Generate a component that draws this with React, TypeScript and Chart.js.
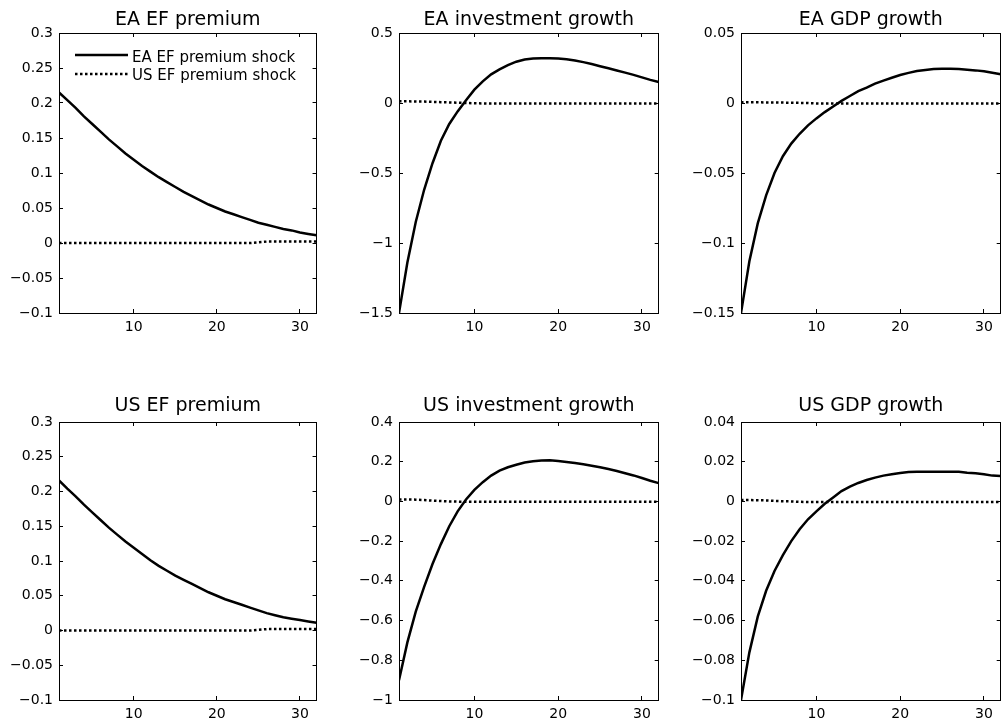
import React, { useEffect, useRef } from "react";
import { Chart, registerables } from "chart.js";

Chart.register(...registerables);
Chart.defaults.font.family = "'DejaVu Sans', sans-serif";
Chart.defaults.color = "#000";

// ---------------- data ----------------
const periods = [1, 2, 3, 4, 5, 6, 7, 8, 9, 10, 11, 12, 13, 14, 15, 16, 17, 18, 19, 20, 21, 22, 23, 24, 25, 26, 27, 28, 29, 30, 31, 32];

const seriesLabels = ["EA EF premium shock", "US EF premium shock"];

const titles = [
  "EA EF premium",
  "EA investment growth",
  "EA GDP growth",
  "US EF premium",
  "US investment growth",
  "US GDP growth",
];

// EA EF premium
const eaPremium_EAshock = [0.215, 0.204, 0.193, 0.181, 0.170, 0.159, 0.148, 0.138, 0.128, 0.119, 0.110, 0.102, 0.094, 0.087, 0.080, 0.073, 0.067, 0.061, 0.055, 0.050, 0.045, 0.041, 0.037, 0.033, 0.029, 0.026, 0.023, 0.020, 0.018, 0.015, 0.013, 0.011];
const eaPremium_USshock = [0, 0, 0, 0, 0, 0, 0, 0, 0, 0, 0, 0, 0, 0, 0, 0, 0, 0, 0, 0, 0, 0, 0, 0, 0.001, 0.002, 0.002, 0.002, 0.002, 0.002, 0.002, 0.002];

// EA investment growth
const eaInv_EAshock = [-1.50, -1.14, -0.85, -0.62, -0.43, -0.27, -0.15, -0.06, 0.02, 0.095, 0.155, 0.205, 0.24, 0.27, 0.295, 0.31, 0.318, 0.32, 0.32, 0.318, 0.312, 0.303, 0.292, 0.278, 0.263, 0.248, 0.232, 0.217, 0.201, 0.183, 0.165, 0.15];
const eaInv_USshock = [0.012, 0.012, 0.011, 0.010, 0.008, 0.006, 0.004, 0.002, 0.000, -0.002, -0.003, -0.004, -0.004, -0.004, -0.004, -0.004, -0.004, -0.004, -0.004, -0.004, -0.004, -0.004, -0.004, -0.004, -0.004, -0.004, -0.004, -0.004, -0.004, -0.004, -0.004, -0.004];

// EA GDP growth
const eaGdp_EAshock = [-0.150, -0.113, -0.086, -0.066, -0.050, -0.038, -0.029, -0.022, -0.016, -0.011, -0.0065, -0.0025, 0.0015, 0.005, 0.0085, 0.011, 0.0138, 0.016, 0.018, 0.020, 0.0215, 0.0228, 0.0236, 0.0242, 0.0245, 0.0245, 0.0242, 0.0238, 0.0233, 0.0226, 0.0216, 0.0205];
const eaGdp_USshock = [0.0005, 0.0005, 0.0005, 0.0004, 0.0004, 0.0003, 0.0002, 0.0001, 0.0, -0.0003, -0.0004, -0.0004, -0.0004, -0.0004, -0.0004, -0.0004, -0.0004, -0.0004, -0.0004, -0.0004, -0.0004, -0.0004, -0.0004, -0.0004, -0.0004, -0.0004, -0.0004, -0.0004, -0.0004, -0.0004, -0.0004, -0.0004];

// US EF premium
const usPremium_EAshock = [0.216, 0.204, 0.193, 0.181, 0.170, 0.159, 0.148, 0.138, 0.128, 0.119, 0.110, 0.101, 0.093, 0.086, 0.079, 0.073, 0.067, 0.061, 0.055, 0.050, 0.045, 0.041, 0.037, 0.033, 0.029, 0.025, 0.022, 0.019, 0.017, 0.015, 0.013, 0.011];
const usPremium_USshock = [0, 0, 0, 0, 0, 0, 0, 0, 0, 0, 0, 0, 0, 0, 0, 0, 0, 0, 0, 0, 0, 0, 0, 0, 0.001, 0.002, 0.002, 0.002, 0.002, 0.002, 0.002, 0.002];

// US investment growth
const usInv_EAshock = [-0.90, -0.71, -0.555, -0.43, -0.315, -0.215, -0.125, -0.05, 0.01, 0.058, 0.097, 0.13, 0.155, 0.172, 0.185, 0.196, 0.202, 0.206, 0.207, 0.204, 0.199, 0.193, 0.187, 0.18, 0.172, 0.163, 0.153, 0.142, 0.131, 0.118, 0.104, 0.092];
const usInv_USshock = [0.010, 0.010, 0.009, 0.007, 0.004, 0.002, 0.000, -0.001, -0.002, -0.002, -0.002, -0.002, -0.002, -0.002, -0.002, -0.002, -0.002, -0.002, -0.002, -0.002, -0.002, -0.002, -0.002, -0.002, -0.002, -0.002, -0.002, -0.002, -0.002, -0.002, -0.002, -0.002];

// US GDP growth
const usGdp_EAshock = [-0.100, -0.076, -0.058, -0.045, -0.035, -0.027, -0.020, -0.014, -0.009, -0.005, -0.0012, 0.002, 0.0052, 0.0075, 0.0093, 0.0108, 0.012, 0.013, 0.0137, 0.0143, 0.0148, 0.015, 0.015, 0.015, 0.015, 0.015, 0.0149, 0.0145, 0.0142, 0.0137, 0.013, 0.0128];
const usGdp_USshock = [0.0007, 0.0007, 0.0006, 0.0005, 0.0003, 0.0001, 0, -0.0002, -0.0003, -0.0003, -0.0003, -0.0003, -0.0003, -0.0003, -0.0003, -0.0003, -0.0003, -0.0003, -0.0003, -0.0003, -0.0003, -0.0003, -0.0003, -0.0003, -0.0003, -0.0003, -0.0003, -0.0003, -0.0003, -0.0003, -0.0003, -0.0003];

// tick values
const xTicks = [10, 20, 30];
const yTicksPremium = [-0.1, -0.05, 0, 0.05, 0.1, 0.15, 0.2, 0.25, 0.3];
const yTicksEAInv = [-1.5, -1, -0.5, 0, 0.5];
const yTicksEAGdp = [-0.15, -0.1, -0.05, 0, 0.05];
const yTicksUSInv = [-1, -0.8, -0.6, -0.4, -0.2, 0, 0.2, 0.4];
const yTicksUSGdp = [-0.1, -0.08, -0.06, -0.04, -0.02, 0, 0.02, 0.04];

const panels = [
  { title: titles[0], ea: eaPremium_EAshock, us: eaPremium_USshock, yTicks: yTicksPremium, legend: true },
  { title: titles[1], ea: eaInv_EAshock, us: eaInv_USshock, yTicks: yTicksEAInv, legend: false },
  { title: titles[2], ea: eaGdp_EAshock, us: eaGdp_USshock, yTicks: yTicksEAGdp, legend: false },
  { title: titles[3], ea: usPremium_EAshock, us: usPremium_USshock, yTicks: yTicksPremium, legend: false },
  { title: titles[4], ea: usInv_EAshock, us: usInv_USshock, yTicks: yTicksUSInv, legend: false },
  { title: titles[5], ea: usGdp_EAshock, us: usGdp_USshock, yTicks: yTicksUSGdp, legend: false },
];

// ---------------- layout ----------------
const COL_LEFT = [59, 399, 741];
const COL_RIGHT = [317, 659, 1001];
const ROW_TOP = [33, 422];
const ROW_BOTTOM = [313, 700];
const TITLE_GAP = [8, 11];
const TITLE_SPACE = 40;
const Y_AXIS_W = 60;
const X_AXIS_H = 30;
const RIGHT_PAD = 2;

const fmt = (v: number | string) => String(v).replace("-", "\u2212");

const panelTitlePlugin = {
  id: "panelTitle",
  afterDraw(chart: any, _args: any, opts: any) {
    const { ctx, chartArea } = chart;
    ctx.save();
    ctx.font = "19px 'DejaVu Sans'";
    ctx.fillStyle = "#000";
    ctx.textAlign = "center";
    ctx.textBaseline = "alphabetic";
    ctx.fillText(opts.text, (chartArea.left + chartArea.right) / 2, chartArea.top - opts.gap);
    ctx.restore();
  },
};

const panelLegendPlugin = {
  id: "panelLegend",
  afterDatasetsDraw(chart: any, _args: any, opts: any) {
    if (!opts.display) return;
    const { ctx, chartArea } = chart;
    ctx.save();
    chart.data.datasets.forEach((ds: any, i: number) => {
      const ly = chartArea.top + opts.lineY[i];
      ctx.beginPath();
      ctx.strokeStyle = ds.borderColor;
      ctx.lineWidth = ds.borderWidth;
      ctx.setLineDash(ds.borderDash || []);
      ctx.moveTo(chartArea.left + opts.lineX0, ly);
      ctx.lineTo(chartArea.left + opts.lineX1, ly);
      ctx.stroke();
      ctx.setLineDash([]);
      ctx.font = "15px 'DejaVu Sans'";
      ctx.fillStyle = "#000";
      ctx.textAlign = "left";
      ctx.textBaseline = "alphabetic";
      ctx.fillText(ds.label, chartArea.left + opts.textX, chartArea.top + opts.textY[i]);
    });
    ctx.restore();
  },
};

function Panel({ idx }: { idx: number }) {
  const ref = useRef<HTMLCanvasElement | null>(null);
  const p = panels[idx];
  const col = idx % 3;
  const row = Math.floor(idx / 3);
  const plotW = COL_RIGHT[col] - COL_LEFT[col];
  const plotH = ROW_BOTTOM[row] - ROW_TOP[row];
  const left = COL_LEFT[col] - Y_AXIS_W;
  const top = ROW_TOP[row] - TITLE_SPACE;
  const width = plotW + Y_AXIS_W + RIGHT_PAD;
  const height = plotH + TITLE_SPACE + X_AXIS_H;

  useEffect(() => {
    if (!ref.current) return;
    const yMin = p.yTicks[0];
    const yMax = p.yTicks[p.yTicks.length - 1];
    const gridOpts = { drawOnChartArea: false, drawTicks: true, tickLength: -4, color: "#000", lineWidth: 1 };
    const borderOpts = { display: true, color: "#000", width: 1 };
    const setX = (s: any) => { s.ticks = xTicks.map((v) => ({ value: v })); };
    const setY = (s: any) => { s.ticks = p.yTicks.map((v) => ({ value: v })); };
    const chart = new Chart(ref.current, {
      type: "line",
      data: {
        datasets: [
          {
            label: seriesLabels[0],
            data: periods.map((x, i) => ({ x, y: p.ea[i] })),
            borderColor: "#000",
            borderWidth: 2.5,
            pointRadius: 0,
            tension: 0,
            fill: false,
            xAxisID: "x",
            yAxisID: "y",
          },
          {
            label: seriesLabels[1],
            data: periods.map((x, i) => ({ x, y: p.us[i] })),
            borderColor: "#000",
            borderWidth: 2.5,
            borderDash: [2.5, 2.5],
            pointRadius: 0,
            tension: 0,
            fill: false,
            xAxisID: "x",
            yAxisID: "y",
          },
        ],
      },
      options: {
        animation: false,
        responsive: false,
        maintainAspectRatio: false,
        devicePixelRatio: 1,
        events: [],
        layout: { padding: { top: TITLE_SPACE, right: RIGHT_PAD, bottom: 0, left: 0 } },
        plugins: {
          legend: { display: false },
          tooltip: { enabled: false },
          title: { display: false },
          panelTitle: { text: p.title, gap: TITLE_GAP[row] },
          panelLegend: {
            display: p.legend,
            lineX0: 16,
            lineX1: 69,
            textX: 73,
            lineY: [22, 41],
            textY: [29, 47],
          },
        } as any,
        scales: {
          x: {
            type: "linear",
            position: "bottom",
            min: 1,
            max: 32,
            afterBuildTicks: setX,
            afterFit: (s: any) => { s.height = X_AXIS_H; },
            grid: gridOpts,
            border: borderOpts,
            ticks: { padding: 10, color: "#000", font: { size: 14 }, maxRotation: 0, autoSkip: false, callback: fmt },
          },
          x2: {
            type: "linear",
            position: "top",
            min: 1,
            max: 32,
            afterBuildTicks: setX,
            afterFit: (s: any) => { s.height = 0; },
            grid: gridOpts,
            border: borderOpts,
            ticks: { display: false },
          },
          y: {
            type: "linear",
            position: "left",
            min: yMin,
            max: yMax,
            afterBuildTicks: setY,
            afterFit: (s: any) => { s.width = Y_AXIS_W; },
            grid: gridOpts,
            border: borderOpts,
            ticks: { padding: 10, color: "#000", font: { size: 14 }, autoSkip: false, callback: fmt },
          },
          y2: {
            type: "linear",
            position: "right",
            min: yMin,
            max: yMax,
            afterBuildTicks: setY,
            afterFit: (s: any) => { s.width = 0; },
            grid: gridOpts,
            border: borderOpts,
            ticks: { display: false },
          },
        },
      } as any,
      plugins: [panelTitlePlugin, panelLegendPlugin],
    });
    return () => chart.destroy();
  }, []);

  return (
    <canvas
      ref={ref}
      width={width}
      height={height}
      style={{ position: "absolute", left, top, width, height }}
    />
  );
}

export default function App() {
  return (
    <div style={{ position: "fixed", left: 0, top: 0, width: 1003, height: 726, background: "#fff", overflow: "hidden" }}>
      {panels.map((_, i) => (
        <Panel key={i} idx={i} />
      ))}
    </div>
  );
}
